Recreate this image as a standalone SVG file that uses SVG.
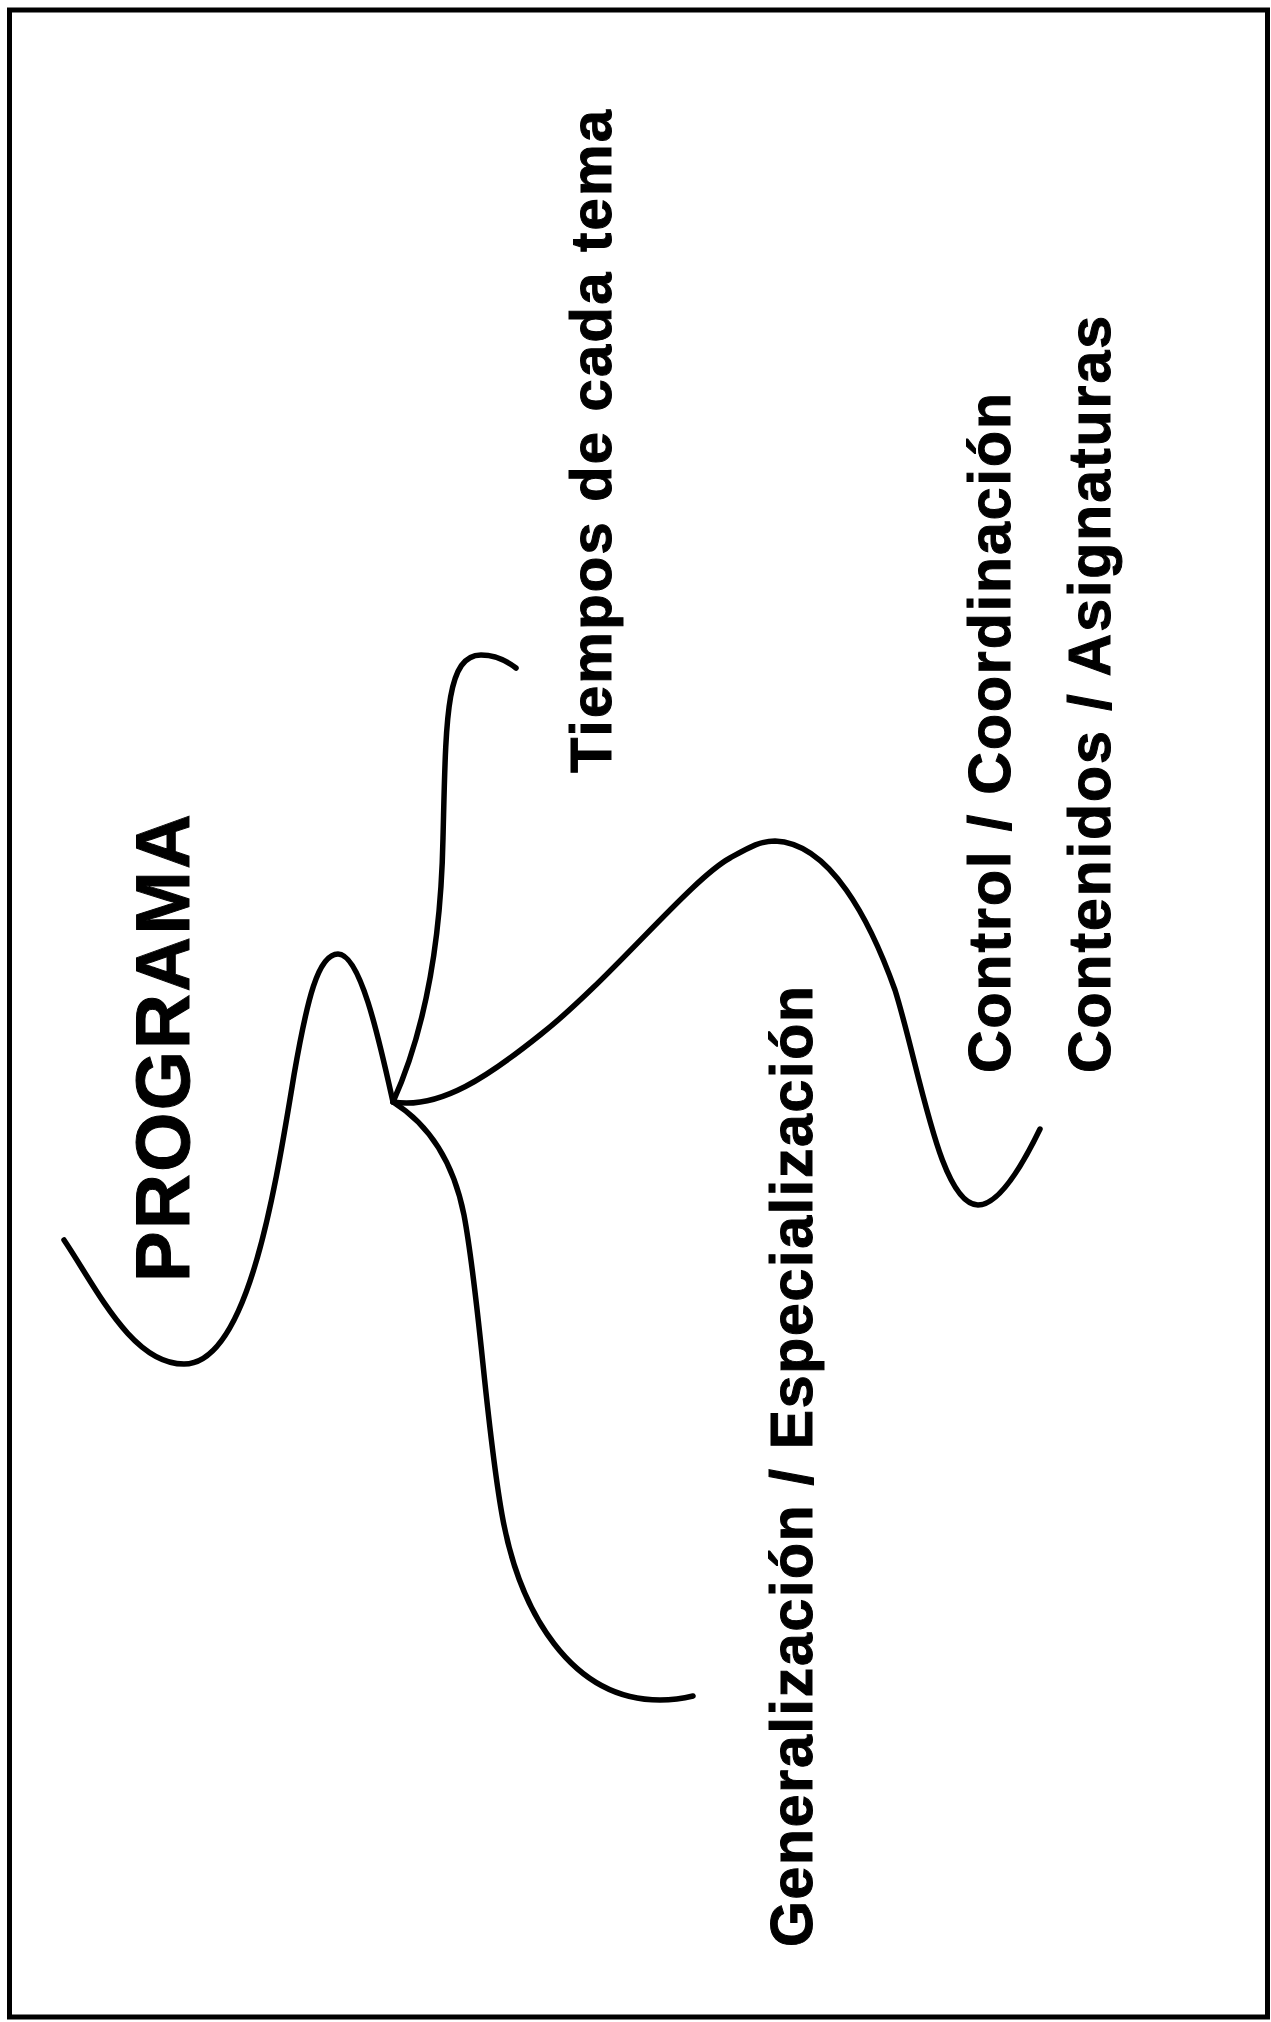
<svg xmlns="http://www.w3.org/2000/svg" width="1271" height="2022" viewBox="0 0 1271 2022">
  <style>
    .lbl { font-family: "Liberation Sans", Arial, Helvetica, sans-serif; font-weight: bold; fill: #000; stroke: #000; stroke-width: 1; }
    .curve { fill: none; stroke: #000; stroke-width: 5.5; stroke-linecap: round; stroke-linejoin: round; }
  </style>
  <rect x="0" y="0" width="1271" height="2022" fill="#fff"/>
  <rect id="frame" x="9.5" y="10" width="1258" height="2007" fill="none" stroke="#000" stroke-width="5"/>

  <g id="connectors">
    <path class="curve" d="M64,1240 C97,1289 132,1364 184,1364 C248,1364 275,1190 294,1075 C307,1000 318,954 338,954 C361,954 380,1044 393,1102"/>
    <path class="curve" d="M393,1102 C425,1031 441,941 443,838 C446,722 445,655 481,655 C496,655 507,661 516,668"/>
    <path class="curve" d="M393,1102 C440,1110 490,1075 540,1035 C610,980 690,880 730,858 C750,847 760,841 775,841 C830,843 870,920 895,990 C920,1070 940,1205 978,1205 C1000,1205 1025,1160 1040,1129"/>
    <path class="curve" d="M393,1102 C425,1122 452,1155 464,1215 C480,1300 486,1430 503,1520 C520,1610 570,1700 660,1700 C675,1700 685,1698 693,1696"/>
  </g>

  <g id="programa">
    <text class="lbl" transform="translate(189,1282) rotate(-90)" font-size="76" textLength="468" lengthAdjust="spacing">PROGRAMA</text>
  </g>
  <g id="tiempos">
    <text class="lbl" transform="translate(611,773) rotate(-90)" font-size="58" textLength="663" lengthAdjust="spacing">Tiempos de cada tema</text>
  </g>
  <g id="control">
    <text class="lbl" transform="translate(1010,1073) rotate(-90)" font-size="59" textLength="680" lengthAdjust="spacing">Control / Coordinación</text>
  </g>
  <g id="contenidos">
    <text class="lbl" transform="translate(1110,1073) rotate(-90)" font-size="59" textLength="757" lengthAdjust="spacing">Contenidos / Asignaturas</text>
  </g>
  <g id="generalizacion">
    <text class="lbl" transform="translate(812,1947) rotate(-90)" font-size="59" textLength="961" lengthAdjust="spacing">Generalización / Especialización</text>
  </g>
</svg>
